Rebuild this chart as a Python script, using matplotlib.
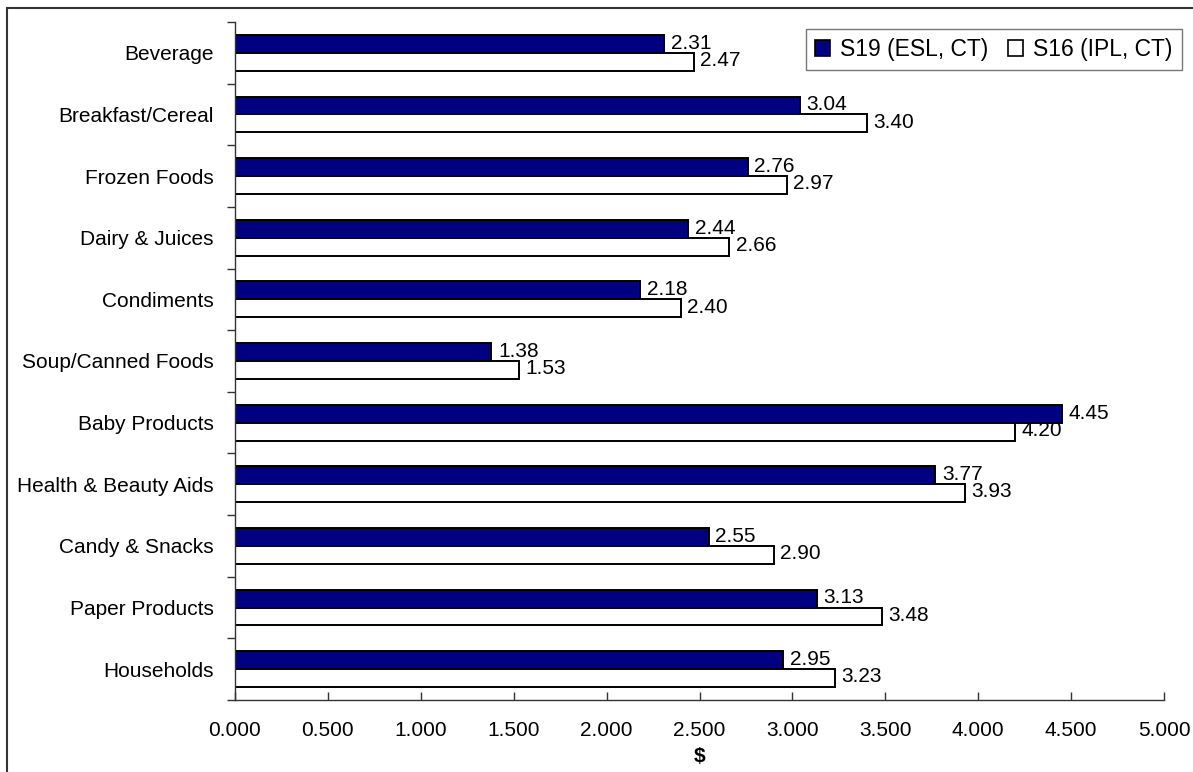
import matplotlib
matplotlib.use("Agg")
import matplotlib.pyplot as plt
import numpy as np
from matplotlib.patches import Rectangle

plt.rcParams['font.family'] = ['Liberation Sans', 'DejaVu Sans']

categories = ["Beverage", "Breakfast/Cereal", "Frozen Foods", "Dairy & Juices",
              "Condiments", "Soup/Canned Foods", "Baby Products",
              "Health & Beauty Aids", "Candy & Snacks", "Paper Products", "Households"]
s19 = [2.31, 3.04, 2.76, 2.44, 2.18, 1.38, 4.45, 3.77, 2.55, 3.13, 2.95]
s16 = [2.47, 3.40, 2.97, 2.66, 2.40, 1.53, 4.20, 3.93, 2.90, 3.48, 3.23]
series_names = ["S19 (ESL, CT)", "S16 (IPL, CT)"]
xticks = [0, 0.5, 1, 1.5, 2, 2.5, 3, 3.5, 4, 4.5, 5]

W, H = 1193, 772
fig = plt.figure(figsize=(W/100, H/100), dpi=100)
ax = fig.add_axes([235/W, 1 - 700/H, (1164-235)/W, (700-22)/H])

n = len(categories)
y = np.arange(n)
bh = 0.29
ax.barh(y - bh/2, s19, height=bh, color='#000080', edgecolor='black', linewidth=1.4, label=series_names[0])
ax.barh(y + bh/2, s16, height=bh, color='white', edgecolor='black', linewidth=1.4, label=series_names[1])

fs = 15
for i in range(n):
    ax.text(s19[i] + 0.035, y[i] - bh/2 - 0.01, f"{s19[i]:.2f}", va='center', ha='left', fontsize=fs)
    ax.text(s16[i] + 0.035, y[i] + bh/2 - 0.02, f"{s16[i]:.2f}", va='center', ha='left', fontsize=fs)

ax.set_ylim(n - 0.5, -0.5)
ax.set_xlim(0, 5)
ax.set_yticks(y)
ax.set_yticklabels(categories, fontsize=fs)
ax.set_yticks(np.arange(n + 1) - 0.5, minor=True)
ax.tick_params(axis='y', which='major', length=0, pad=15.5)
ax.tick_params(axis='y', which='minor', length=6, direction='out', width=1, color='#333333')
ax.set_xticks(xticks)
ax.set_xticklabels([f"{v:.3f}" for v in xticks], fontsize=fs)
ax.tick_params(axis='x', direction='in', length=6, width=1, color='#333333', pad=15)
ax.set_xlabel("$", fontsize=fs, fontweight='bold', labelpad=5)

for s in ['top', 'right']:
    ax.spines[s].set_visible(False)
for s in ['left', 'bottom']:
    ax.spines[s].set_color('#333333')
    ax.spines[s].set_linewidth(1)

leg = ax.legend(loc='upper left', bbox_to_anchor=((806-235)/(1164-235), 1 + (22-29)/(700-22)),
                ncol=2, fontsize=16.5, frameon=True, fancybox=False, edgecolor='#555555',
                handlelength=0.65, handleheight=0.65, handletextpad=0.44, columnspacing=0.87,
                borderpad=0.4, borderaxespad=0)
leg.get_frame().set_linewidth(1)
for h in leg.legend_handles:
    h.set_linewidth(1.2)

fig.patches.append(Rectangle((7/W, -0.1), 1.2, 1 - 8/H + 0.1, transform=fig.transFigure,
                             fill=False, edgecolor='#333333', linewidth=1.5))

fig.savefig("out.png", dpi=100)
